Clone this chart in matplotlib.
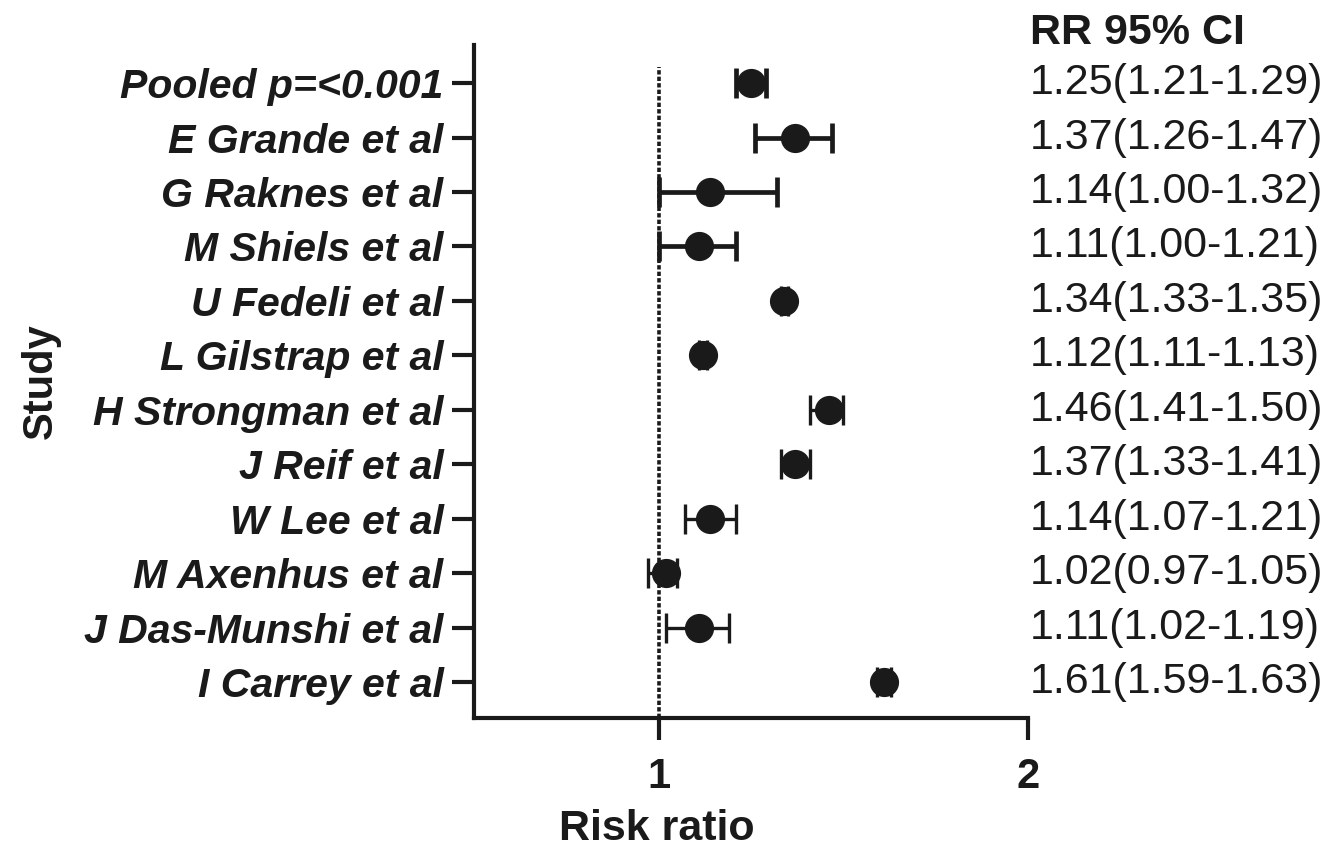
import matplotlib
matplotlib.use("Agg")
import matplotlib.pyplot as plt
from matplotlib.transforms import blended_transform_factory

studies = [
    "Pooled p=<0.001", "E Grande et al", "G Raknes et al", "M Shiels et al",
    "U Fedeli et al", "L Gilstrap et al", "H Strongman et al", "J Reif et al",
    "W Lee et al", "M Axenhus et al", "J Das-Munshi et al", "I Carrey et al",
]
rr = [1.25, 1.37, 1.14, 1.11, 1.34, 1.12, 1.46, 1.37, 1.14, 1.02, 1.11, 1.61]
ci_low = [1.21, 1.26, 1.00, 1.00, 1.33, 1.11, 1.41, 1.33, 1.07, 0.97, 1.02, 1.59]
ci_high = [1.29, 1.47, 1.32, 1.21, 1.35, 1.13, 1.50, 1.41, 1.21, 1.05, 1.19, 1.63]
ci_text = [
    "1.25(1.21-1.29)", "1.37(1.26-1.47)", "1.14(1.00-1.32)", "1.11(1.00-1.21)",
    "1.34(1.33-1.35)", "1.12(1.11-1.13)", "1.46(1.41-1.50)", "1.37(1.33-1.41)",
    "1.14(1.07-1.21)", "1.02(0.97-1.05)", "1.11(1.02-1.19)", "1.61(1.59-1.63)",
]
x_ticks = [1, 2]

plt.rcParams["font.family"] = ["Liberation Sans", "DejaVu Sans"]
ink = "#1a1a1a"

fig = plt.figure(figsize=(13.3, 8.59), dpi=100)
ax = fig.add_axes([474 / 1330, 141 / 859, 554 / 1330, 673 / 859])

n = len(studies)
ys = [n - 1 - i for i in range(n)]

# reference line at RR = 1
ax.axvline(1, ymin=0, ymax=(n - 1 + 0.66 + 0.29) / (n - 1 + 0.66 + 0.7),
           color=ink, linestyle=(0, (1.2, 0.6)), linewidth=2.6, zorder=1)

for i in range(n):
    lw = 3.4 if i < 4 else 2.4
    ax.errorbar(rr[i], ys[i],
                xerr=[[rr[i] - ci_low[i]], [ci_high[i] - rr[i]]],
                fmt="o", color=ink, markersize=20, elinewidth=lw,
                capsize=11, capthick=lw, zorder=3)

ax.set_xlim(0.5, 2.0)
ax.set_ylim(-0.66, n - 1 + 0.7)
ax.set_xticks(x_ticks)
ax.set_xticklabels([str(t) for t in x_ticks], fontsize=30, fontweight="bold")
ax.set_yticks(ys)
ax.set_yticklabels(studies, fontsize=29.5, fontweight="bold", fontstyle="italic")

for side in ["top", "right"]:
    ax.spines[side].set_visible(False)
for side in ["left", "bottom"]:
    ax.spines[side].set_linewidth(3)
    ax.spines[side].set_color(ink)
ax.tick_params(axis="both", length=16, width=3, color=ink, labelcolor=ink)
ax.tick_params(axis="y", pad=6)
ax.tick_params(axis="x", pad=12)

ax.set_xlabel("Risk ratio", fontsize=31, fontweight="bold", color=ink)
ax.xaxis.set_label_coords(0.33, -0.135)
ax.set_ylabel("Study", fontsize=30, fontweight="bold", color=ink)
ax.yaxis.set_label_coords(-0.745, 0.5)

tr = blended_transform_factory(ax.transAxes, ax.transData)
for y, txt in zip(ys, ci_text):
    ax.text(1.003, y, txt, transform=tr, fontsize=31, color=ink,
            ha="left", va="center")
ax.text(1.003, n - 1 + 0.92, "RR 95% CI", transform=tr, fontsize=31,
        fontweight="bold", color=ink, ha="left", va="center", clip_on=False)

fig.savefig("out.png", dpi=100)
